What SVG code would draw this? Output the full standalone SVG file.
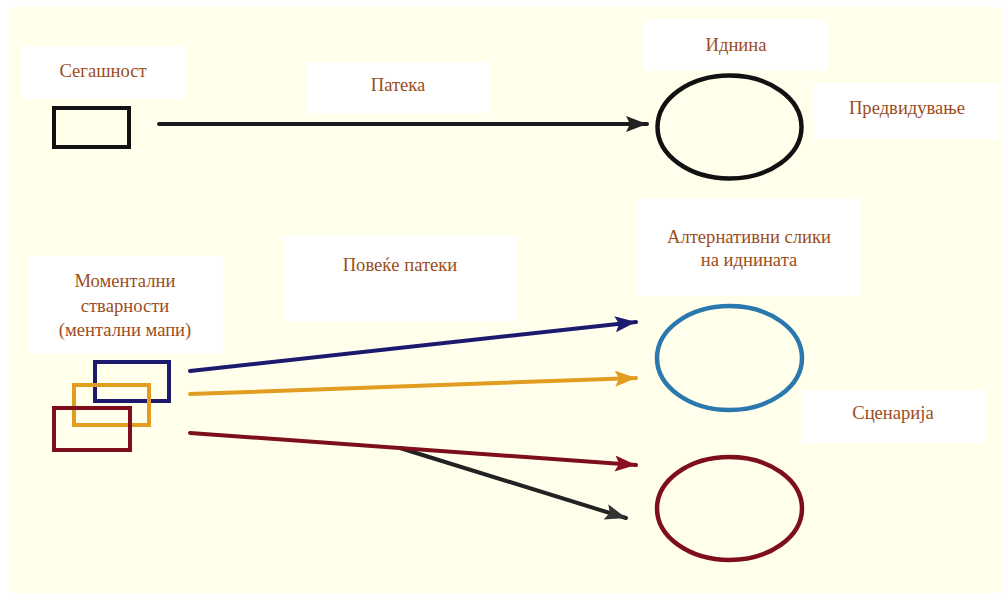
<svg xmlns="http://www.w3.org/2000/svg" width="1002" height="593" viewBox="0 0 1002 593">
  <style>
    .lbl { fill: #ffffff; }
    .t { font-family: "Liberation Serif", "Times New Roman", serif; font-size: 18.6px; fill: #9C4E1C; text-anchor: middle; }
    .box { fill: none; stroke-width: 4; }
    .ell { fill: none; stroke-width: 4.5; }
    .conn { fill: none; stroke-width: 4; stroke-linecap: round; }
  </style>
  <defs>
    <marker id="ah-black" markerUnits="userSpaceOnUse" markerWidth="24" markerHeight="18" refX="21" refY="8" orient="auto">
      <path d="M0,0 L21,8 L0,16 L4,8 z" fill="#222"/>
    </marker>
    <marker id="ah-navy" markerUnits="userSpaceOnUse" markerWidth="24" markerHeight="18" refX="21" refY="8" orient="auto">
      <path d="M0,0 L21,8 L0,16 L4,8 z" fill="#1C1A6E"/>
    </marker>
    <marker id="ah-orange" markerUnits="userSpaceOnUse" markerWidth="24" markerHeight="18" refX="21" refY="8" orient="auto">
      <path d="M0,0 L21,8 L0,16 L4,8 z" fill="#E39C22"/>
    </marker>
    <marker id="ah-red" markerUnits="userSpaceOnUse" markerWidth="24" markerHeight="18" refX="21" refY="8" orient="auto">
      <path d="M0,0 L21,8 L0,16 L4,8 z" fill="#8A1020"/>
    </marker>
    <marker id="ah-grey" markerUnits="userSpaceOnUse" markerWidth="24" markerHeight="18" refX="21" refY="8" orient="auto">
      <path d="M0,0 L21,8 L0,16 L4,8 z" fill="#333"/>
    </marker>
  </defs>

  <!-- page -->
  <rect x="0" y="0" width="1002" height="593" fill="#ffffff"/>
  <rect x="8" y="7" width="994" height="586" fill="#FFFFEC"/>

  <!-- connectors -->
  <g id="connectors">
    <line class="conn" x1="159" y1="124" x2="647" y2="124" stroke="#1a1a1a" marker-end="url(#ah-black)"/>
    <line class="conn" x1="190" y1="371" x2="636" y2="322" stroke="#1C1A6E" marker-end="url(#ah-navy)"/>
    <line class="conn" x1="190" y1="394" x2="636" y2="378" stroke="#E39C22" marker-end="url(#ah-orange)"/>
    <line class="conn" x1="400" y1="448" x2="626" y2="518" stroke="#222" marker-end="url(#ah-grey)"/>
    <line class="conn" x1="190" y1="433" x2="636" y2="465" stroke="#7E0E1A" marker-end="url(#ah-red)"/>
  </g>

  <!-- present: single state -->
  <g id="present">
    <rect class="lbl" x="21" y="46" width="164" height="53"/>
    <text class="t" x="103" y="77">Сегашност</text>
    <rect class="box" x="54" y="108" width="75" height="39" stroke="#111"/>
  </g>

  <g id="path-label">
    <rect class="lbl" x="307" y="62" width="183" height="51"/>
    <text class="t" x="398" y="91">Патека</text>
  </g>

  <!-- single future -->
  <g id="future">
    <rect class="lbl" x="643" y="19" width="184" height="52"/>
    <text class="t" x="736" y="51">Иднина</text>
    <ellipse class="ell" cx="729.5" cy="127" rx="72" ry="51.5" stroke="#111"/>
  </g>

  <g id="forecast">
    <rect class="lbl" x="814" y="83" width="186" height="56"/>
    <text class="t" x="907" y="114">Предвидување</text>
  </g>

  <!-- current realities (mental maps) -->
  <g id="realities">
    <rect class="lbl" x="27" y="256" width="196" height="97"/>
    <text class="t" x="125" y="287">Моментални</text>
    <text class="t" x="125" y="312">стварности</text>
    <text class="t" x="125" y="336">(ментални мапи)</text>
    <rect class="box" x="95" y="362" width="74" height="39" stroke="#1C1A6E"/>
    <rect class="box" x="74" y="385" width="75" height="40" stroke="#E39C22"/>
    <rect class="box" x="54" y="408" width="76" height="42" stroke="#7E0E1A"/>
  </g>

  <g id="multi-path-label">
    <rect class="lbl" x="283" y="236" width="234" height="85"/>
    <text class="t" x="400" y="271">Повеќе патеки</text>
  </g>

  <!-- alternative futures -->
  <g id="alternatives">
    <rect class="lbl" x="638" y="199" width="222" height="97"/>
    <text class="t" x="749" y="243">Алтернативни слики</text>
    <text class="t" x="749" y="266">на иднината</text>
    <ellipse class="ell" cx="729.5" cy="358" rx="72.5" ry="52" stroke="#2A78AE"/>
    <ellipse class="ell" cx="729.5" cy="508.5" rx="72.5" ry="51.5" stroke="#7E0E1A"/>
  </g>

  <g id="scenarios">
    <rect class="lbl" x="801" y="390" width="185" height="53"/>
    <text class="t" x="893" y="419">Сценарија</text>
  </g>
</svg>
